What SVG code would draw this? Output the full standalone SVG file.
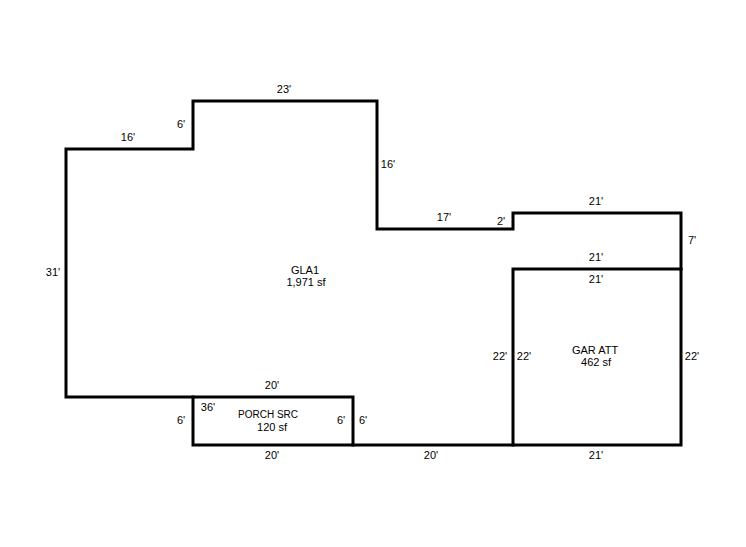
<svg xmlns="http://www.w3.org/2000/svg" width="746" height="547" viewBox="0 0 746 547">
<style>
.w{fill:none;stroke:#000;stroke-width:3;stroke-linecap:square;stroke-linejoin:miter}
text{font-family:"Liberation Sans",Arial,sans-serif;font-size:11px;fill:#000;text-anchor:middle}
</style>
<rect width="746" height="547" fill="#fff"/>
<g id="connectors">
<path class="w" d="M66 149H193V101H377V229H513V213H681V269M66 149V397H193M353 445H513"/>
</g>
<g id="gla1">
<text x="305" y="274">GLA1</text><text x="306" y="286">1,971 sf</text>
<text x="284" y="93">23'</text><text x="128" y="141">16'</text><text x="181" y="128">6'</text><text x="388" y="168">16'</text><text x="444" y="221">17'</text><text x="501" y="225">2'</text><text x="596" y="205">21'</text><text x="692" y="244">7'</text><text x="53" y="276">31'</text><text x="272" y="389">20'</text><text x="181" y="424">6'</text><text x="431" y="459">20'</text><text x="596" y="261">21'</text><text x="500" y="360">22'</text>
</g>
<g id="garage">
<rect class="w" x="513" y="269" width="168" height="176"/>
<text x="595" y="354">GAR ATT</text><text x="596" y="366">462 sf</text>
<text x="596" y="283">21'</text><text x="524" y="360">22'</text><text x="692" y="360">22'</text><text x="596" y="459">21'</text>
</g>
<g id="porch">
<rect class="w" x="193" y="397" width="160" height="48"/>
<text x="268" y="418" font-size="10" style="font-size:10px">PORCH SRC</text><text x="272" y="431">120 sf</text>
<text x="208" y="411">36'</text><text x="341" y="424">6'</text><text x="363" y="424">6'</text><text x="272" y="459">20'</text>
</g>
</svg>
